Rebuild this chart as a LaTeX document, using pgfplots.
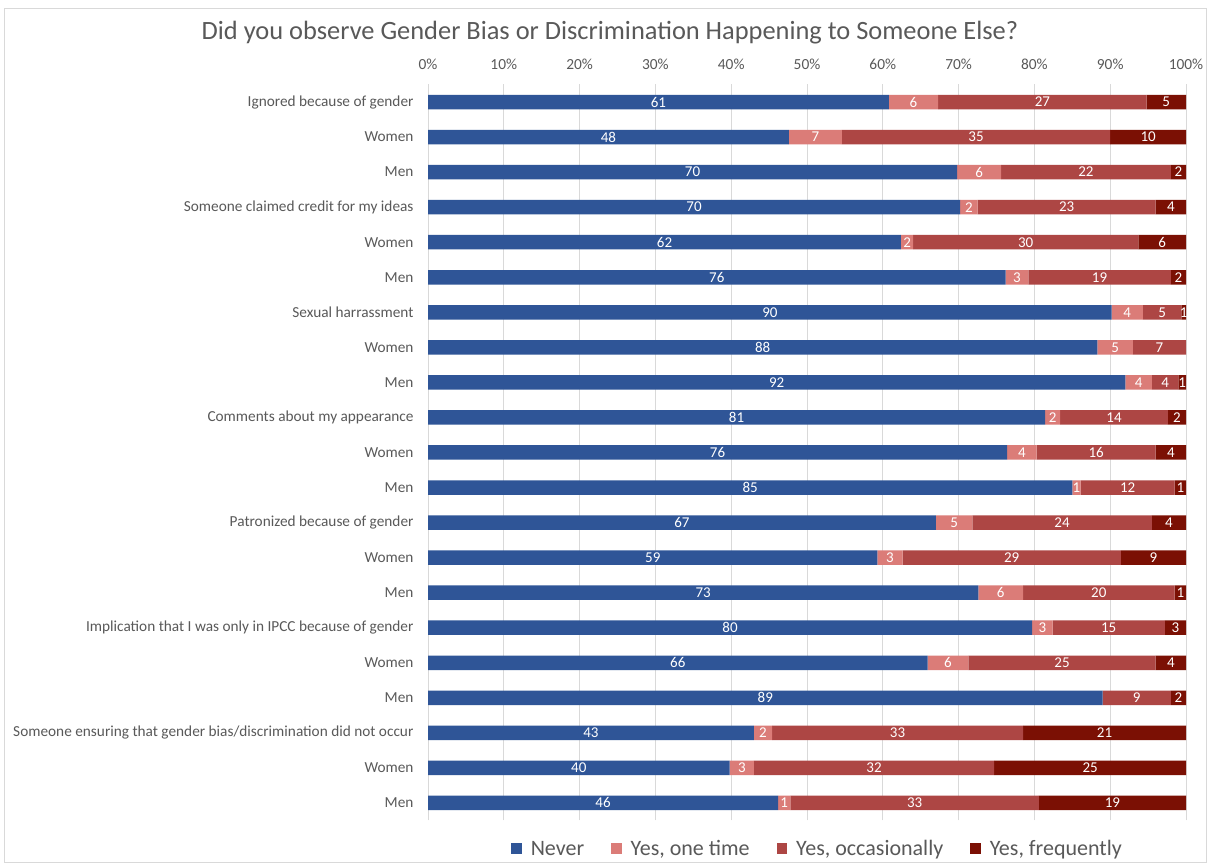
\documentclass[border=0pt]{standalone}
\usepackage{fontspec}
\setmainfont{Carlito}
\usepackage{pgfplots}
\usepackage{pgfplotstable}
\pgfplotsset{compat=1.18}
\definecolor{cnever}{HTML}{2F5597}
\definecolor{cone}{HTML}{DB7C78}
\definecolor{cocc}{HTML}{AD4644}
\definecolor{cfreq}{HTML}{7B1004}
\definecolor{cgrid}{HTML}{D9D9D9}
\definecolor{ctext}{HTML}{595959}
\pgfplotstableread[col sep=comma]{
y,never,one,occ,freq,ln,lo,lc,lf
20,60.8,6.5,27.5,5.2,61,6,27,5
19,47.6,7.0,35.4,10.0,48,7,35,10
18,69.8,5.8,22.4,2.0,70,6,22,2
17,70.2,2.3,23.5,4.0,70,2,23,4
16,62.4,1.6,29.7,6.3,62,2,30,6
15,76.2,3.0,18.8,2.0,76,3,19,2
14,90.2,4.1,5.1,0.6,90,4,5,1
13,88.3,4.7,7.0,0,88,5,7,
12,92.0,3.5,3.5,1.0,92,4,4,1
11,81.4,2.0,14.2,2.4,81,2,14,2
10,76.4,3.9,15.7,4.0,76,4,16,4
9,85.0,1.1,12.4,1.5,85,1,12,1
8,67.0,4.8,23.7,4.5,67,5,24,4
7,59.3,3.3,28.8,8.6,59,3,29,9
6,72.6,5.9,20.0,1.5,73,6,20,1
5,79.7,2.7,14.8,2.8,80,3,15,3
4,65.9,5.4,24.7,4.0,66,6,25,4
3,89.0,0,9.0,2.0,89,,9,2
2,43.0,2.4,33.1,21.5,43,2,33,21
1,39.8,3.2,31.7,25.3,40,3,32,25
0,46.2,1.6,32.8,19.4,46,1,33,19
}\datatable
\begin{document}
\begin{tikzpicture}
\useasboundingbox (0,0) rectangle (1210pt,867pt);
\fill[white] (0,0) rectangle (1210pt,867pt);
\draw[color=cgrid, line width=0.8pt] (4pt,5pt) rectangle (1206pt,859pt);
\node[font=\fontsize{26.4}{30}\selectfont, text=ctext] at (610pt,834pt) {Did you observe Gender Bias or Discrimination Happening to Someone Else?};
\begin{axis}[
  at={(428pt,46.5pt)}, anchor=south west,
  scale only axis, width=758pt, height=736pt,
  xbar stacked, bar width=14.5pt,
  xmin=0, xmax=100, ymin=-0.5, ymax=20.5,
  xtick={0,10,...,100},
  xticklabels={0\%,10\%,20\%,30\%,40\%,50\%,60\%,70\%,80\%,90\%,100\%},
  xticklabel pos=upper,
  ytick={0,...,20},
  yticklabels={Men,Women,Someone ensuring that gender bias/discrimination did not occur,Men,Women,Implication that I was only in IPCC because of gender,Men,Women,Patronized because of gender,Men,Women,Comments about my appearance,Men,Women,Sexual harrassment,Men,Women,Someone claimed credit for my ideas,Men,Women,Ignored because of gender},
  major tick length=0pt,
  tick label style={text=ctext},
  xticklabel style={font=\fontsize{15.4}{18}\selectfont, yshift=11pt},
  yticklabel style={font=\fontsize{15.3}{18}\selectfont, xshift=-11pt},
  xmajorgrids, grid style={cgrid, line width=0.8pt},
  axis line style={draw=none},
  nodes near coords,
  point meta=explicit symbolic,
  every node near coord/.append style={font=\fontsize{15}{17}\selectfont, text=white, anchor=center},
  legend columns=4,
  legend style={at={(axis description cs:0.5139,-0.0387)}, anchor=center, draw=none, fill=none, font=\fontsize{22}{26}\selectfont, text=ctext, /tikz/every odd column/.append style={column sep=7pt}, /tikz/every even column/.append style={column sep=25pt}},
  legend image code/.code={\fill[#1,draw=none] (0pt,-5.5pt) rectangle (10.5pt,5.5pt);},
]
\addplot[fill=cnever, draw=none] table[x=never, y=y, meta=ln] {\datatable};
\addplot[fill=cone, draw=none] table[x=one, y=y, meta=lo] {\datatable};
\addplot[fill=cocc, draw=none] table[x=occ, y=y, meta=lc] {\datatable};
\addplot[fill=cfreq, draw=none] table[x=freq, y=y, meta=lf] {\datatable};
\legend{Never,{Yes, one time},{Yes, occasionally},{Yes, frequently}}
\end{axis}
\end{tikzpicture}
\end{document}
